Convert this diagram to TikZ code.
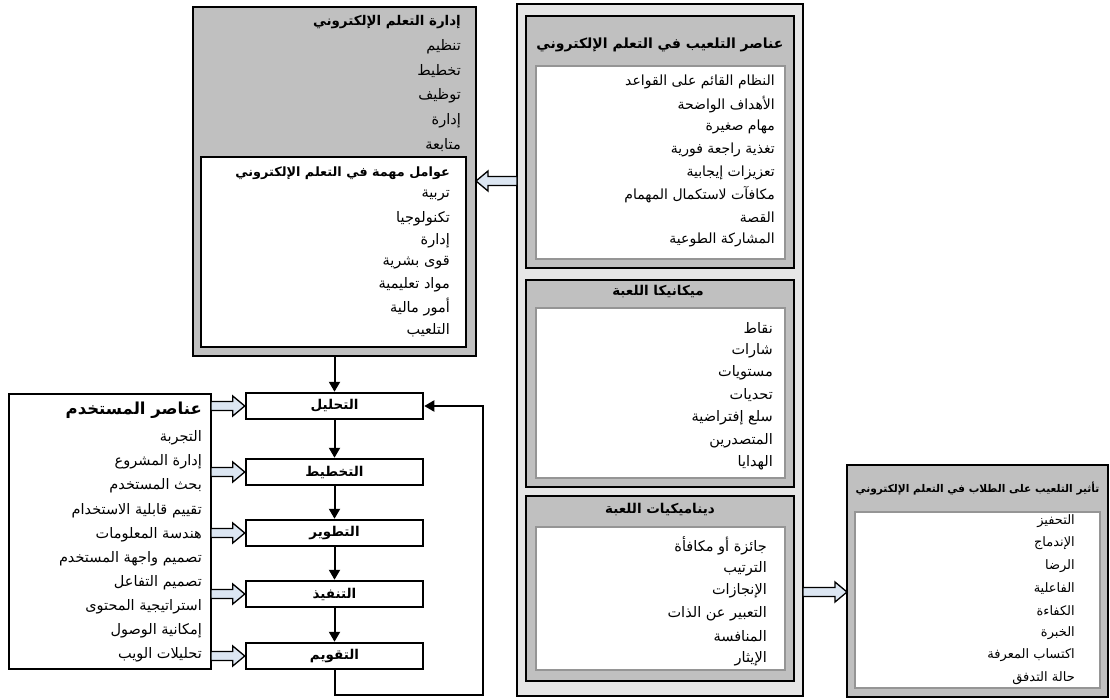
\documentclass[tikz,border=0pt]{standalone}
\usepackage{fontspec}
\usetikzlibrary{arrows.meta,calc}
\TeXXeTstate=1
\newfontfamily\arabicfont[Script=Arabic]{DejaVu Sans}
\newcommand\artx[1]{{\arabicfont\beginR #1\endR}}
\definecolor{boxgray}{HTML}{C0C0C0}
\definecolor{contgray}{HTML}{E6E6E6}
\definecolor{ingray}{HTML}{959595}
\definecolor{arrowfill}{HTML}{DCE6F2}
\newcommand\harrow[2]{% #1 start (tail), #2 tip, horizontal
  \filldraw[harrowst] let \p1=#1, \p2=#2, \n1={ifthenelse(\x2>\x1,1,-1)} in
    (\x1,\y1+4.5pt) -- (\x2-\n1*12pt,\y1+4.5pt) -- (\x2-\n1*12pt,\y1+10pt) -- (\x2,\y1)
    -- (\x2-\n1*12pt,\y1-10pt) -- (\x2-\n1*12pt,\y1-4.5pt) -- (\x1,\y1-4.5pt) -- cycle;}
\tikzset{
  boxbase/.style={anchor=north west, inner sep=0pt, outer sep=0pt},
  graybox/.style={boxbase, draw=black, line width=2.5pt, fill=boxgray},
  whitebox/.style={boxbase, draw=black, line width=2.5pt, fill=white},
  inbox/.style={boxbase, draw=ingray, line width=2.5pt, fill=white},
  contbox/.style={boxbase, draw=black, line width=1.2pt, fill=contgray},
  proc/.style={draw=black, line width=2.5pt, fill=white, minimum width=177pt, minimum height=26pt, inner sep=0pt, font=\fontsize{13.5}{15}\selectfont\bfseries},
  item/.style={anchor=east, inner sep=0pt, font=\fontsize{14.5}{16}\selectfont},
  ttl/.style={inner sep=0pt, font=\fontsize{13.5}{15}\selectfont\bfseries},
  conn/.style={line width=2pt, -{Triangle[length=10pt,width=11pt]}},
  harrowst/.style={draw=black, line width=1.3pt, fill=arrowfill, line join=miter},
}
\begin{document}
\begin{tikzpicture}[x=1pt,y=-1pt]
\useasboundingbox[fill=white] (0,0) rectangle (1110,699);
% top-left management box
\node[graybox, minimum width=283pt, minimum height=349pt] (tl) at (193,7) {};
\node[ttl, anchor=east, font=\fontsize{13.4}{15}\selectfont\bfseries] (tlt) at (461,22) {\artx{إدارة التعلم الإلكتروني}};
\foreach \t [count=\i] in {تنظيم,تخطيط,توظيف,إدارة,متابعة}
  \node[item] (tli\i) at (461,{47+(\i-1)*24.5}) {\artx{\t}};
\node[whitebox, minimum width=265pt, minimum height=190pt] (tlin) at (201,157) {};
\node[ttl, anchor=east, font=\fontsize{12.8}{14}\selectfont\bfseries] (tlint) at (450,173) {\artx{عوامل مهمة في التعلم الإلكتروني}};
\foreach \t [count=\i] in {تربية,تكنولوجيا,إدارة,قوى بشرية,مواد تعليمية,أمور مالية,التلعيب}
  \node[item] (tlini\i) at (450,{196+(\i-1)*22.3}) {\artx{\t}};
% right container
\node[contbox, minimum width=286pt, minimum height=692pt] (cont) at (517,4) {};
\node[graybox, minimum width=268pt, minimum height=252pt] (b1) at (526,16) {};
\node[ttl, font=\fontsize{14}{16}\selectfont\bfseries] (b1t) at (660,45) {\artx{عناصر التلعيب في التعلم الإلكتروني}};
\node[inbox, minimum width=249pt, minimum height=193pt] (b1in) at (536,66) {};
\foreach \t [count=\i] in {النظام القائم على القواعد,الأهداف الواضحة,مهام صغيرة,تغذية راجعة فورية,تعزيزات إيجابية,مكافآت لاستكمال المهمام,القصة,المشاركة الطوعية}
  \node[item, font=\fontsize{14}{16}\selectfont] (b1i\i) at (775,{82+(\i-1)*22.6}) {\artx{\t}};
\node[graybox, minimum width=268pt, minimum height=207pt] (b2) at (526,280) {};
\node[ttl] (b2t) at (658,292) {\artx{ميكانيكا اللعبة}};
\node[inbox, minimum width=249pt, minimum height=170pt] (b2in) at (536,308) {};
\foreach \t [count=\i] in {نقاط,شارات,مستويات,تحديات,سلع إفتراضية,المتصدرين,الهدايا}
  \node[item] (b2i\i) at (773,{328+(\i-1)*22.5}) {\artx{\t}};
\node[graybox, minimum width=268pt, minimum height=185pt] (b3) at (526,496) {};
\node[ttl] (b3t) at (660,510) {\artx{ديناميكيات اللعبة}};
\node[inbox, minimum width=249pt, minimum height=143pt] (b3in) at (536,527) {};
\foreach \t [count=\i] in {جائزة أو مكافأة,الترتيب,الإنجازات,التعبير عن الذات,المنافسة,الإيثار}
  \node[item] (b3i\i) at (767,{546+(\i-1)*22.6}) {\artx{\t}};
% bottom-right effect box
\node[graybox, minimum width=261pt, minimum height=232pt] (br) at (847,465) {};
\node[ttl, font=\fontsize{10.6}{12}\selectfont\bfseries] (brt) at (977.5,489) {\artx{تأثير التلعيب على الطلاب في التعلم الإلكتروني}};
\node[inbox, minimum width=245pt, minimum height=176pt] (brin) at (855,512) {};
\foreach \t [count=\i] in {التحفيز,الإندماج,الرضا,الفاعلية,الكفاءة,الخبرة,اكتساب المعرفة,حالة التدفق}
  \node[item, font=\fontsize{13}{15}\selectfont] (bri\i) at (1075,{521+(\i-1)*22.4}) {\artx{\t}};
% user elements box
\node[whitebox, minimum width=202pt, minimum height=275pt] (user) at (9,394) {};
\node[ttl, anchor=east, font=\fontsize{16.5}{18}\selectfont\bfseries] (usert) at (202,410) {\artx{عناصر المستخدم}};
\foreach \t [count=\i] in {التجربة,إدارة المشروع,بحث المستخدم,تقييم قابلية الاستخدام,هندسة المعلومات,تصميم واجهة المستخدم,تصميم التفاعل,استراتيجية المحتوى,إمكانية الوصول,تحليلات الويب}
  \node[item] (useri\i) at (202,{438+(\i-1)*24.1}) {\artx{\t}};
% process column
\node[proc] (p1) at (334.5,406) {\artx{التحليل}};
\node[proc] (p2) at (334.5,472) {\artx{التخطيط}};
\node[proc] (p3) at (334.5,533) {\artx{التطوير}};
\node[proc] (p4) at (334.5,594) {\artx{التنفيذ}};
\node[proc] (p5) at (334.5,656) {\artx{التقويم}};
\draw[conn] (tl.south) -- (p1.north);
\draw[conn] (p1.south) -- (p2.north);
\draw[conn] (p2.south) -- (p3.north);
\draw[conn] (p3.south) -- (p4.north);
\draw[conn] (p4.south) -- (p5.north);
\coordinate (fb) at (483,695);
\draw[conn, line join=miter] (p5.south) |- (fb) |- (p1.east);
% hollow arrows
\foreach \k in {1,...,5}
  \harrow{(user.east |- p\k.west)}{(p\k.west)};
\coordinate (a1) at (517,181);
\harrow{(a1)}{(tl.east |- a1)}
\coordinate (a2) at (803,592);
\harrow{(a2)}{(br.west |- a2)}
\end{tikzpicture}
\end{document}
